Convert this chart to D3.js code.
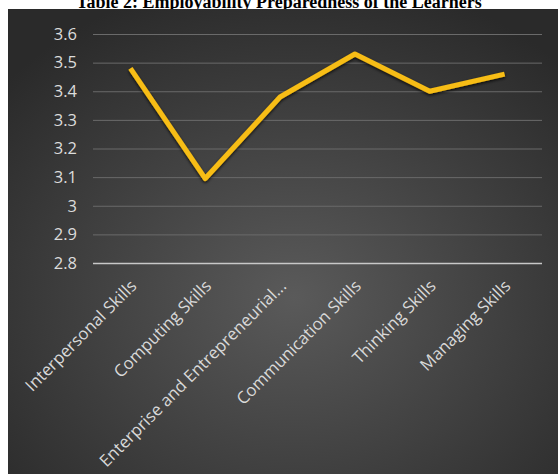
<!DOCTYPE html>
<html>
<head>
<meta charset="utf-8">
<script src="https://cdn.jsdelivr.net/npm/d3@7"></script>
<style>
  body { margin: 0; background: #fff; }
  svg { display: block; }
</style>
</head>
<body>
<div id="chart"></div>
<script>
// data
const categories = ['Interpersonal Skills', 'Computing Skills', 'Enterprise and Entrepreneurial...',
  'Communication Skills', 'Thinking Skills', 'Managing Skills'];
const scores = [3.48, 3.095, 3.38, 3.53, 3.40, 3.46];
const yTicks = [2.8, 2.9, 3.0, 3.1, 3.2, 3.3, 3.4, 3.5, 3.6];
const title = 'Table 2: Employability Preparedness of the Learners';

const width = 558, height = 474;
const panel = { left: 8, top: 9 };
const plot = { left: 93, right: 542, top: 34, bottom: 263 };

const svg = d3.select('#chart').append('svg')
  .attr('width', width)
  .attr('height', height);

const defs = svg.append('defs');
const grad = defs.append('radialGradient')
  .attr('id', 'bg')
  .attr('cx', '0.52').attr('cy', '0.62').attr('r', '0.7');
grad.append('stop').attr('offset', '0%').attr('stop-color', '#5a5a5a');
grad.append('stop').attr('offset', '100%').attr('stop-color', '#2a2a2a');

const shadow = defs.append('filter').attr('id', 'shadow')
  .attr('x', '-10%').attr('y', '-10%').attr('width', '120%').attr('height', '130%');
shadow.append('feDropShadow')
  .attr('dx', 0).attr('dy', 1.5).attr('stdDeviation', 1.5)
  .attr('flood-color', '#000').attr('flood-opacity', 0.8);

// title (cut off at the top as in the scan)
svg.append('text')
  .attr('x', width / 2)
  .attr('y', 8)
  .attr('text-anchor', 'middle')
  .attr('font-family', '"Liberation Serif", "Times New Roman", serif')
  .attr('font-weight', 'bold')
  .attr('font-size', 18)
  .text(title);

// dark panel
svg.append('rect')
  .attr('x', panel.left).attr('y', panel.top)
  .attr('width', width - panel.left).attr('height', height - panel.top)
  .attr('fill', 'url(#bg)');

const x = d3.scalePoint()
  .domain(categories)
  .range([plot.left, plot.right])
  .padding(0.5);

const y = d3.scaleLinear()
  .domain([2.8, 3.6])
  .range([plot.bottom, plot.top]);

// gridlines + y labels
const yAxis = svg.append('g')
  .attr('transform', `translate(${plot.left},0)`)
  .call(d3.axisLeft(y).tickValues(yTicks)
    .tickSize(-(plot.right - plot.left))
    .tickPadding(16)
    .tickFormat(d => d3.format('')(+d.toFixed(1))));
yAxis.select('.domain').remove();
yAxis.selectAll('line')
  .attr('stroke', d => d === 2.8 ? '#c8c8c8' : '#6a6a6a')
  .attr('stroke-width', d => d === 2.8 ? 1.5 : 1);
yAxis.selectAll('text')
  .attr('fill', '#dcdcdc')
  .attr('font-family', '"Open Sans", sans-serif')
  .attr('font-size', 16.5);

// category labels
svg.append('g').selectAll('text')
  .data(categories)
  .enter().append('text')
  .attr('transform', d => `translate(${x(d) + 3},${plot.bottom + 20}) rotate(-45)`)
  .attr('text-anchor', 'end')
  .attr('dy', '0.35em')
  .attr('fill', '#d9d9d9')
  .attr('font-family', '"Open Sans", sans-serif')
  .attr('font-size', 16.8)
  .text(d => d);

// the line
const line = d3.line()
  .x((d, i) => x(categories[i]))
  .y(d => y(d));

svg.append('path')
  .datum(scores)
  .attr('d', line)
  .attr('fill', 'none')
  .attr('stroke', '#f7bd13')
  .attr('stroke-width', 5)
  .attr('stroke-linejoin', 'round')
  .attr('filter', 'url(#shadow)');
</script>
</body>
</html>
